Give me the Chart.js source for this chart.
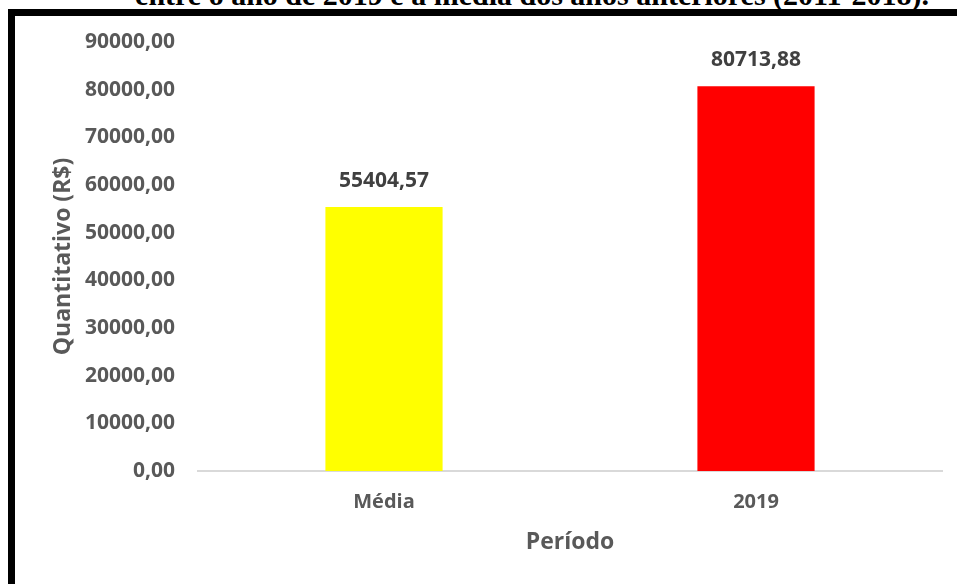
<!DOCTYPE html>
<html>
<head>
<meta charset="utf-8">
<script src="https://cdn.jsdelivr.net/npm/chart.js@4.4.1/dist/chart.umd.min.js"></script>
<style>
    html, body { margin: 0; padding: 0; background: #fff; width: 957px; height: 584px; overflow: hidden; }
    #title { position: absolute; left: 0; width: 1064px; top: -22px; text-align: center; white-space: nowrap;
             font: bold 30px "Liberation Serif", serif; color: #000; }
    #frame { position: absolute; left: 8px; top: 9px; width: 1000px; height: 700px;
             border-left: 7px solid #000; border-top: 7px solid #000; }
    #wrap { position: absolute; left: 0; top: 0; width: 957px; height: 584px; }
</style>
</head>
<body>
<div id="title">entre o ano de 2019 e a média dos anos anteriores (2011-2018).</div>
<div id="frame"></div>
<div id="wrap"><canvas id="valoresChart"></canvas></div>
<script>
const categories = ['Média', '2019'];
const values = [55404.57, 80713.88];
const barColors = ['#FFFF00', '#FF0000'];
const yMin = 0;
const yMax = 90000;
const yStep = 10000;

const formatBR = (v) => v.toFixed(2).replace('.', ',');

const dataLabels = {
    id: 'dataLabels',
    afterDatasetsDraw(chart) {
        const { ctx } = chart;
        const meta = chart.getDatasetMeta(0);
        ctx.save();
        ctx.font = 'bold 21px "Open Sans"';
        ctx.fillStyle = '#404040';
        ctx.textAlign = 'center';
        ctx.textBaseline = 'middle';
        meta.data.forEach((bar, i) => {
            ctx.fillText(formatBR(values[i]), bar.x, bar.y - 26);
        });
        ctx.restore();
    }
};

new Chart(document.getElementById('valoresChart'), {
    type: 'bar',
    data: {
        labels: categories,
        datasets: [{
            data: values,
            backgroundColor: barColors,
            borderWidth: 0,
            barPercentage: 0.315,
            categoryPercentage: 1
        }]
    },
    options: {
        responsive: true,
        maintainAspectRatio: false,
        animation: false,
        layout: { padding: { top: 42, right: 15, left: 0, bottom: 0 } },
        plugins: {
            legend: { display: false },
            tooltip: { enabled: false }
        },
        scales: {
            y: {
                min: yMin,
                max: yMax,
                afterFit(scale) { scale.width = 198; },
                ticks: {
                    stepSize: yStep,
                    padding: 23,
                    color: '#595959',
                    font: { family: 'Open Sans', size: 21, weight: 'bold' },
                    callback: (v) => formatBR(v)
                },
                grid: { display: false, drawTicks: false },
                border: { display: false },
                title: {
                    display: true,
                    text: 'Quantitativo (R$)',
                    color: '#595959',
                    font: { family: 'Open Sans', size: 23, weight: 'bold' },
                    padding: { top: 50, bottom: 0 }
                }
            },
            x: {
                afterFit(scale) { scale.height = 113; },
                ticks: {
                    padding: 19,
                    color: '#595959',
                    font: { family: 'Open Sans', size: 20, weight: 'bold' }
                },
                grid: { display: false, drawTicks: false },
                border: { display: true, color: '#d9d9d9', width: 2 },
                title: {
                    display: true,
                    text: 'Período',
                    color: '#595959',
                    font: { family: 'Open Sans', size: 23, weight: 'bold' },
                    padding: { top: 0, bottom: 28 }
                }
            }
        }
    },
    plugins: [dataLabels]
});
</script>
</body>
</html>
